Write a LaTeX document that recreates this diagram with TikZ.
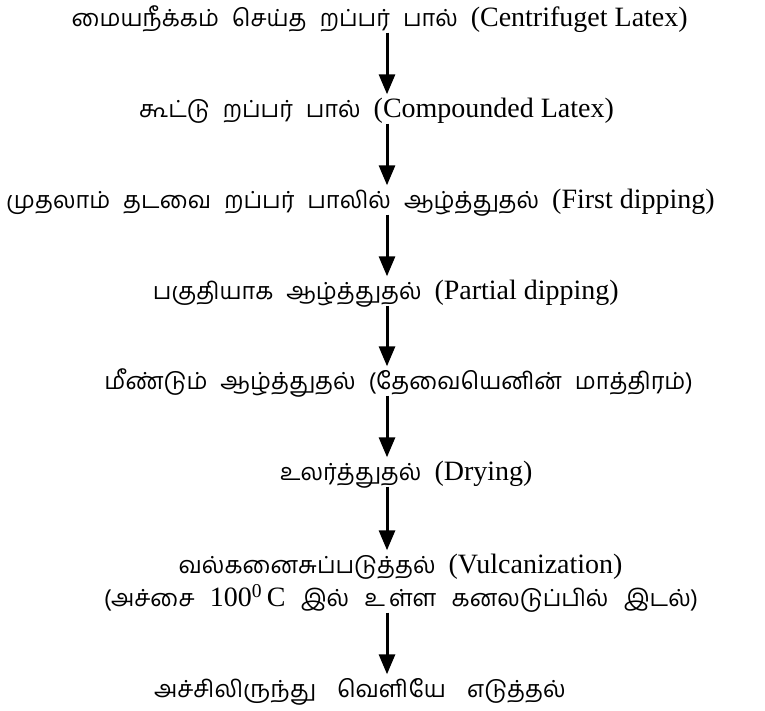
\documentclass[tikz,border=0pt]{standalone}
\usepackage{fontspec}
\setmainfont{Liberation Serif}
\newfontfamily\tamil[Script=Tamil]{Hind Madurai}
\usetikzlibrary{arrows.meta}
\newcommand{\lat}[1]{{\rmfamily\fontsize{28}{32}\selectfont #1}}
\newcommand{\gp}{\hspace{0.55em}}
\newcommand{\wgp}{\hspace{0.65em}}
\newcommand{\pair}[2]{\llap{#1}\rlap{#2}}
\tikzset{
  lbl/.style={inner sep=0pt, font=\tamil\fontsize{23.5}{28}\selectfont, text height=17pt, text depth=6pt, anchor=center},
  arr/.style={line width=3pt, -{Triangle[length=20pt,width=16pt]}},
}
\begin{document}
\begin{tikzpicture}[x=1pt,y=-1pt]
\useasboundingbox (0,0) rectangle (765,711);
\coordinate (ax) at (387,0);
\node[lbl] (t1) at (390,21) {\pair{மையநீக்கம்\gp செய்த\gp றப்பர்}{\hspace{13pt}பால்\gp\lat{(Centrifuget Latex)}}};
\node[lbl] (t2) at (383,112) {\pair{கூட்டு\gp றப்பர்\gp பால்\gp\lat{(}}{\lat{Compounded Latex)}}};
\node[lbl] (t3) at (391,203) {\pair{முதலாம்\gp தடவை\gp றப்பர்\gp பாலில்}{\hspace{13pt}ஆழ்த்துதல்\gp\lat{(First dipping)}}};
\node[lbl] (t4) at (381,294) {\pair{பகுதியாக\gp ஆழ்த்து}{தல்\gp\lat{(Partial dipping)}}};
\node[lbl] (t5) at (376,384) {\pair{மீண்டும்\gp ஆழ்த்துதல்\gp (}{தேவையெனின்\gp மாத்திரம்)}};
\node[lbl] (t6) at (381,475) {\pair{உலர்த்து}{தல்\gp\lat{(Drying)}}};
\node[lbl] (t7) at (377,568) {\pair{வல்கனைசுப்படு}{த்தல்\gp\lat{(Vulcanization)}}};
\node[lbl] (t8) at (387,601) {\pair{(அச்சை\wgp\lat{100\textsuperscript{0}\,C}\wgp இல்\wgp உ\hspace{2pt}}{\hspace{2pt}ள்ள\wgp கனலடுப்பில்\wgp இடல்)}};
\node[lbl] (t9) at (379,692) {\pair{அச்சிலிருந்து\hspace{0.9em}வெ}{ளியே\hspace{0.9em}எடுத்தல்}};
\draw[arr] (t1.south -| ax) -- ([yshift=6pt]t2.north -| ax);
\draw[arr] (t2.south -| ax) -- ([yshift=6pt]t3.north -| ax);
\draw[arr] (t3.south -| ax) -- ([yshift=6pt]t4.north -| ax);
\draw[arr] (t4.south -| ax) -- ([yshift=6pt]t5.north -| ax);
\draw[arr] (t5.south -| ax) -- ([yshift=6pt]t6.north -| ax);
\draw[arr] (t6.south -| ax) -- ([yshift=6pt]t7.north -| ax);
\draw[arr] (t8.south -| ax) -- ([yshift=6pt]t9.north -| ax);
\end{tikzpicture}
\end{document}
